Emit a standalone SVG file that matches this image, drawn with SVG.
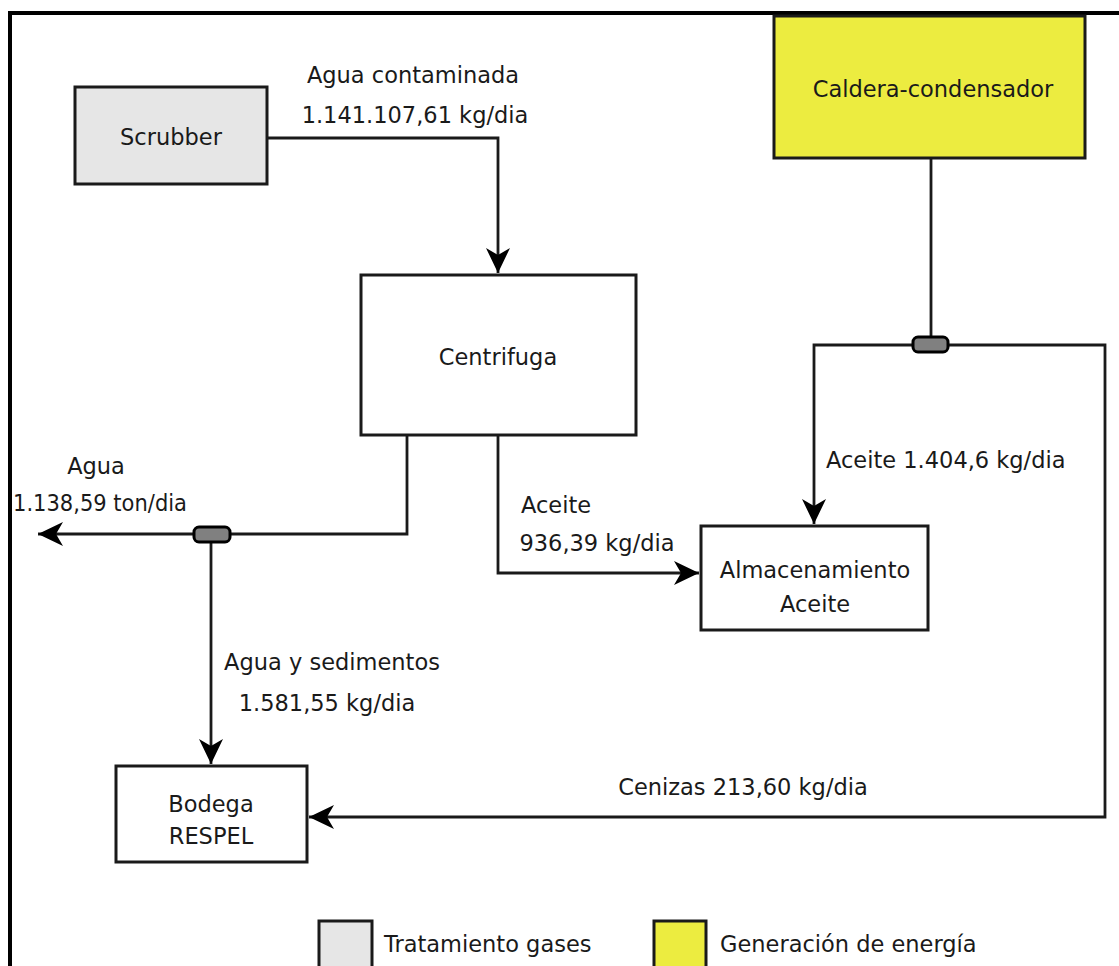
<svg xmlns="http://www.w3.org/2000/svg" width="1119" height="966" viewBox="0 0 1119 966">
<style>
.box{stroke:#1a1a1a;stroke-width:3}
.w{fill:#ffffff}
.g{fill:#e6e6e6}
.y{fill:#ecec40}
.t{font-family:"DejaVu Sans","Verdana",sans-serif;font-size:22.5px;fill:#1a1a1a}
.c{text-anchor:middle}
.ln{fill:none;stroke:#1a1a1a;stroke-width:2.8}
.j{fill:#808080;stroke:#000;stroke-width:3}
</style>
<defs>
<marker id="arr" markerUnits="userSpaceOnUse" markerWidth="28" markerHeight="26" refX="25" refY="13" orient="auto">
<path d="M0,1 L25,13 L0,25 L7,13 z" fill="#000"/>
</marker>
</defs>
<rect width="1119" height="966" fill="#fff"/>
<path d="M10,966 V13 H1119" fill="none" stroke="#000" stroke-width="4"/>

<g id="connectors">
<path class="ln" d="M267,138 H498 V273" marker-end="url(#arr)"/>
<path class="ln" d="M931,158 V338"/>
<path class="ln" d="M914,345 H814 V524" marker-end="url(#arr)"/>
<path class="ln" d="M948,345 H1105 V817 H309" marker-end="url(#arr)"/>
<path class="ln" d="M407,435 V534 H230"/>
<path class="ln" d="M194,534 H38" marker-end="url(#arr)"/>
<path class="ln" d="M211,542 V764" marker-end="url(#arr)"/>
<path class="ln" d="M498,435 V573 H699" marker-end="url(#arr)"/>
<rect class="j" x="194" y="527" width="36" height="15" rx="5"/>
<rect class="j" x="913" y="337" width="35" height="15" rx="5"/>
</g>

<g id="scrubber">
<rect class="box g" x="75" y="87" width="192" height="97"/>
<text class="t c" x="171" y="145">Scrubber</text>
</g>
<g id="centrifuga">
<rect class="box w" x="361" y="275" width="275" height="160"/>
<text class="t c" x="498" y="365">Centrifuga</text>
</g>
<g id="caldera">
<rect class="box y" x="774" y="16" width="311" height="142"/>
<text class="t c" x="933" y="97">Caldera-condensador</text>
</g>
<g id="almacenamiento">
<rect class="box w" x="701" y="526" width="227" height="104"/>
<text class="t c" x="815" y="578">Almacenamiento</text>
<text class="t c" x="815" y="612">Aceite</text>
</g>
<g id="bodega">
<rect class="box w" x="116" y="766" width="191" height="96"/>
<text class="t c" x="211" y="812">Bodega</text>
<text class="t c" x="211" y="844">RESPEL</text>
</g>

<g id="labels">
<text class="t c" x="96" y="474">Agua</text>
<text class="t" x="13" y="511" textLength="174" lengthAdjust="spacingAndGlyphs">1.138,59 ton/dia</text>
<text class="t c" x="413" y="83">Agua contaminada</text>
<text class="t c" x="415" y="123">1.141.107,61 kg/dia</text>
<text class="t c" x="556" y="513">Aceite</text>
<text class="t c" x="597" y="551">936,39 kg/dia</text>
<text class="t" x="826" y="468">Aceite 1.404,6 kg/dia</text>
<text class="t c" x="332" y="670">Agua y sedimentos</text>
<text class="t c" x="327" y="711">1.581,55 kg/dia</text>
<text class="t c" x="743" y="795">Cenizas 213,60 kg/dia</text>
</g>

<g id="legend">
<rect class="box g" x="319" y="921" width="53" height="50"/>
<text class="t" x="384" y="952">Tratamiento gases</text>
<rect class="box y" x="654" y="921" width="52" height="50"/>
<text class="t" x="720" y="952">Generación de energía</text>
</g>
</svg>
